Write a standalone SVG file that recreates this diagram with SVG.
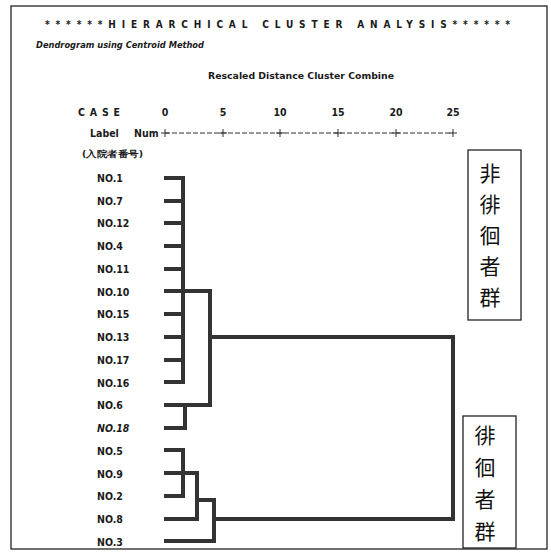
<svg xmlns="http://www.w3.org/2000/svg" xmlns:xlink="http://www.w3.org/1999/xlink" width="551" height="557" viewBox="0 0 551 557">
<style>
.t{font-family:"DejaVu Sans Condensed","Liberation Sans",sans-serif;font-weight:bold;fill:#1a1a1a;}
.lab{font-size:10.5px;}
.num{font-size:10.5px;text-anchor:middle;}
.cjk{font-family:"Noto Sans CJK JP",sans-serif;fill:#111;text-anchor:middle;font-size:21px;}
.box{fill:none;stroke:#222;stroke-width:1.3;}
.outer path{fill:none;stroke:#333;stroke-width:4;stroke-linejoin:miter;}
.inner use{fill:none;stroke:#a8a8a8;stroke-width:1.8;}
.axis{stroke:#333;stroke-width:1;fill:none;}
</style>
<rect x="11" y="6" width="536" height="543" fill="#fff" stroke="#222" stroke-width="1.3"/>
<g id="header">
<text class="t" x="45" y="28" font-size="10" textLength="465" lengthAdjust="spacing">******HIERARCHICAL CLUSTER ANALYSIS******</text>
<text class="t" x="36" y="48" font-size="9.5" font-style="italic" textLength="168" lengthAdjust="spacingAndGlyphs">Dendrogram using Centroid Method</text>
<text class="t" x="208" y="79" font-size="9.5" textLength="186" lengthAdjust="spacingAndGlyphs">Rescaled Distance Cluster Combine</text>
<text class="t lab" x="78" y="116" textLength="42" lengthAdjust="spacing">CASE</text>
<text class="t num" x="165" y="116">0</text>
<text class="t num" x="223" y="116">5</text>
<text class="t num" x="280" y="116">10</text>
<text class="t num" x="338" y="116">15</text>
<text class="t num" x="396" y="116">20</text>
<text class="t num" x="453" y="116">25</text>
<text class="t lab" x="90" y="137">Label</text>
<text class="t lab" x="134" y="137">Num</text>
<text class="t" x="82" y="157" font-size="9" textLength="61" lengthAdjust="spacingAndGlyphs" font-family="'DejaVu Sans Condensed','Noto Sans CJK JP',sans-serif">(入院者番号)</text>
</g>
<g id="axis">
<path class="axis" d="M165,133 H453" stroke-dasharray="5 2"/>
<path class="axis" d="M165,129 V137 M223,129 V137 M280,129 V137 M338,129 V137 M396,129 V137 M453,129 V137 M161,133 H169 M219,133 H227 M276,133 H284 M334,133 H342 M392,133 H400 M449,133 H457"/>
</g>
<g id="case-NO1"><text class="t lab" x="97" y="182">NO.1</text></g>
<g id="case-NO7"><text class="t lab" x="97" y="205">NO.7</text></g>
<g id="case-NO12"><text class="t lab" x="97" y="227">NO.12</text></g>
<g id="case-NO4"><text class="t lab" x="97" y="250">NO.4</text></g>
<g id="case-NO11"><text class="t lab" x="97" y="273">NO.11</text></g>
<g id="case-NO10"><text class="t lab" x="97" y="296">NO.10</text></g>
<g id="case-NO15"><text class="t lab" x="97" y="318">NO.15</text></g>
<g id="case-NO13"><text class="t lab" x="97" y="341">NO.13</text></g>
<g id="case-NO17"><text class="t lab" x="97" y="364">NO.17</text></g>
<g id="case-NO16"><text class="t lab" x="97" y="387">NO.16</text></g>
<g id="case-NO6"><text class="t lab" x="97" y="409">NO.6</text></g>
<g id="case-NO18"><text class="t lab" x="97" y="432" font-style="italic">NO.18</text></g>
<g id="case-NO5"><text class="t lab" x="97" y="455">NO.5</text></g>
<g id="case-NO9"><text class="t lab" x="97" y="478">NO.9</text></g>
<g id="case-NO2"><text class="t lab" x="97" y="500">NO.2</text></g>
<g id="case-NO8"><text class="t lab" x="97" y="523">NO.8</text></g>
<g id="case-NO3"><text class="t lab" x="97" y="546">NO.3</text></g>
<g id="group-non-wanderers">
<rect class="box" x="468" y="150" width="53" height="170"/>
<text class="cjk" x="490" y="181">非</text>
<text class="cjk" x="490" y="212">徘</text>
<text class="cjk" x="490" y="243">徊</text>
<text class="cjk" x="490" y="274">者</text>
<text class="cjk" x="490" y="305">群</text>
</g>
<g id="group-wanderers">
<rect class="box" x="463" y="416" width="53" height="132"/>
<text class="cjk" x="485" y="443">徘</text>
<text class="cjk" x="485" y="475">徊</text>
<text class="cjk" x="485" y="507">者</text>
<text class="cjk" x="485" y="539">群</text>
</g>
<g id="connectors">
<g class="outer">
<path id="c1" d="M164,178 H183 V382 H164"/>
<path id="c2" d="M164,201 H183 M164,223 H183 M164,246 H183 M164,269 H183 M164,291 H183 M164,314 H183 M164,337 H183 M164,360 H183"/>
<path id="c3" d="M164,405 H210 V291 H183"/>
<path id="c4" d="M185,405 V428 H164"/>
<path id="c5" d="M210,337 H453 V519 H214"/>
<path id="c6" d="M164,450 H183 V496 H164 M164,473 H183"/>
<path id="c7" d="M183,473 H197 V519 H164"/>
<path id="c8" d="M197,500 H214 V541 H164"/>
</g>
<g class="inner">
<use xlink:href="#c1"/><use xlink:href="#c2"/><use xlink:href="#c3"/><use xlink:href="#c4"/>
<use xlink:href="#c5"/><use xlink:href="#c6"/><use xlink:href="#c7"/><use xlink:href="#c8"/>
</g>
</g>
</svg>
